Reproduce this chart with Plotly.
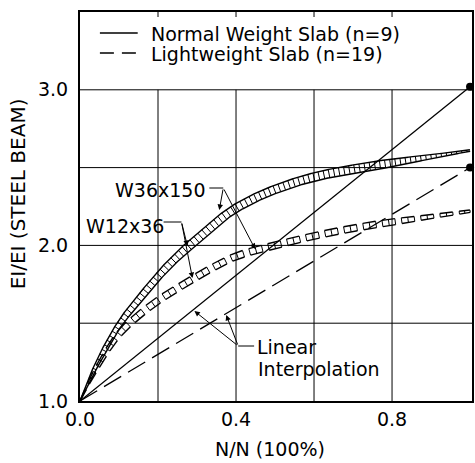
import numpy as np
import plotly.graph_objects as go

# ---------------- data ----------------
x_pts = [0.0, 0.05, 0.10, 0.15, 0.20, 0.25, 0.30, 0.35, 0.40, 0.50, 0.60, 0.70, 0.80, 0.90, 1.00]
# Normal weight slab (n=9): band between W36x150 (upper) and W12x36 (lower)
normal_w36x150 = [1.0, 1.299, 1.520, 1.683, 1.834, 1.964, 2.075, 2.183, 2.270, 2.388, 2.467, 2.517, 2.555, 2.583, 2.615]
normal_w12x36 = [1.0, 1.241, 1.460, 1.617, 1.766, 1.896, 2.005, 2.117, 2.210, 2.332, 2.413, 2.463, 2.505, 2.557, 2.605]
# Lightweight slab (n=19)
light_w36x150 = [1.0, 1.264, 1.459, 1.577, 1.671, 1.750, 1.825, 1.894, 1.953, 2.022, 2.081, 2.131, 2.170, 2.198, 2.228]
light_w12x36 = [1.0, 1.216, 1.401, 1.523, 1.619, 1.700, 1.775, 1.846, 1.907, 1.978, 2.039, 2.089, 2.130, 2.172, 2.212]
# Linear interpolation lines
lin_x = [0.0, 1.0]
lin_normal = [1.0, 3.02]
lin_light = [1.0, 2.50]

x_tick_vals = [0.0, 0.4, 0.8]
x_tick_text = ["0.0", "0.4", "0.8"]
y_tick_vals = [1.0, 2.0, 3.0]
y_tick_text = ["1.0", "2.0", "3.0"]
grid_x = [0.2, 0.4, 0.6, 0.8]
grid_y = [1.5, 2.0, 2.5, 3.0]

# ---------------- geometry ----------------
W, H = 475, 463
ML, MR, MT, MB = 80, 1, 12, 62
X0, X1 = 0.0, 1.005
Y0, Y1 = 1.0, 3.5
PW = W - ML - MR
PH = H - MT - MB
sx = PW / (X1 - X0)
sy = PH / (Y1 - Y0)
FONT = "DejaVu Sans"
FS = 19


def fx(px):  # figure pixel -> data x
    return X0 + (px - ML) / sx


def fy(py):  # figure pixel -> data y
    return Y0 + (H - MB - py) / sy


def px_paper(px):
    return (px - ML) / PW


def py_paper(py):
    return (H - MB - py) / PH


def pchip(xk, yk, xq):
    xk = np.asarray(xk, float)
    yk = np.asarray(yk, float)
    h = np.diff(xk)
    d = np.diff(yk) / h
    n = len(xk)
    m = np.zeros(n)
    for i in range(1, n - 1):
        if d[i - 1] * d[i] <= 0:
            m[i] = 0.0
        else:
            w1 = 2 * h[i] + h[i - 1]
            w2 = h[i] + 2 * h[i - 1]
            m[i] = (w1 + w2) / (w1 / d[i - 1] + w2 / d[i])
    m0 = ((2 * h[0] + h[1]) * d[0] - h[0] * d[1]) / (h[0] + h[1])
    m[0] = m0 if m0 * d[0] > 0 else 0.0
    mn = ((2 * h[-1] + h[-2]) * d[-1] - h[-1] * d[-2]) / (h[-1] + h[-2])
    m[-1] = mn if mn * d[-1] > 0 else 0.0
    idx = np.clip(np.searchsorted(xk, xq) - 1, 0, n - 2)
    t = (xq - xk[idx]) / h[idx]
    h00 = 2 * t**3 - 3 * t**2 + 1
    h10 = t**3 - 2 * t**2 + t
    h01 = -2 * t**3 + 3 * t**2
    h11 = t**3 - t**2
    return h00 * yk[idx] + h10 * h[idx] * m[idx] + h01 * yk[idx + 1] + h11 * h[idx] * m[idx + 1]


def band_traces(xs, up, lo, dashed):
    xq = np.linspace(0, 1, 1201)
    U = pchip(xs, up, xq)
    L = pchip(xs, lo, xq)
    C = (U + L) / 2
    cx = (xq - X0) * sx
    cy = (C - Y0) * sy
    g = (U - L) * sy
    dx = np.gradient(cx)
    dy = np.gradient(cy)
    nn = np.hypot(dx, dy)
    tx, ty = dx / nn, dy / nn
    nx, ny = -ty, tx
    hh = g * tx / 2
    ux, uy = cx + hh * nx, cy + hh * ny
    lx, ly = cx - hh * nx, cy - hh * ny
    s = np.concatenate([[0], np.cumsum(np.hypot(np.diff(cx), np.diff(cy)))])
    send = s[-1]

    def at(sv, arr):
        return np.interp(sv, s, arr)

    ex, ey, rx, ry = [], [], [], []
    if not dashed:
        for arrx, arry in ((ux, uy), (lx, ly)):
            ex += list(arrx / sx + X0) + [None]
            ey += list(arry / sy + Y0) + [None]
        rungs = np.arange(4.0, send, 5.2)
    else:
        P, D = 19.5, 13.0
        rungs = []
        k = 0
        while k * P < send:
            sa = k * P
            sb = min(sa + D, send)
            ss = np.linspace(sa, sb, 10)
            for arrx, arry in ((ux, uy), (lx, ly)):
                ex += list(at(ss, arrx) / sx + X0) + [None]
                ey += list(at(ss, arry) / sy + Y0) + [None]
            rungs += [sa, (sa + sb) / 2, sb]
            k += 1
        rungs = np.array(rungs)
    for sv in rungs:
        if at(sv, hh) < 0.6:
            continue
        rx += [at(sv, ux) / sx + X0, at(sv, lx) / sx + X0, None]
        ry += [at(sv, uy) / sy + Y0, at(sv, ly) / sy + Y0, None]
    return [
        go.Scatter(x=ex, y=ey, mode="lines", line=dict(color="black", width=1.4),
                   hoverinfo="skip", showlegend=False),
        go.Scatter(x=rx, y=ry, mode="lines", line=dict(color="black", width=1.0),
                   hoverinfo="skip", showlegend=False),
    ]


fig = go.Figure()

# linear interpolation lines
fig.add_trace(go.Scatter(x=lin_x, y=lin_normal, mode="lines",
                         line=dict(color="black", width=1.3), showlegend=False))
fig.add_trace(go.Scatter(x=lin_x, y=lin_light, mode="lines",
                         line=dict(color="black", width=1.3, dash="20px,8px"), showlegend=False))
# end dots
fig.add_trace(go.Scatter(x=[lin_x[-1], lin_x[-1]], y=[lin_normal[-1], lin_light[-1]], mode="markers",
                         marker=dict(color="black", size=8), cliponaxis=False, showlegend=False))

for tr in band_traces(x_pts, normal_w36x150, normal_w12x36, dashed=False):
    fig.add_trace(tr)
for tr in band_traces(x_pts, light_w36x150, light_w12x36, dashed=True):
    fig.add_trace(tr)

shapes = []
for gx in grid_x:
    shapes.append(dict(type="line", xref="x", yref="y", x0=gx, x1=gx, y0=Y0, y1=3.0,
                       line=dict(color="black", width=1), layer="below"))
    shapes.append(dict(type="line", xref="x", yref="paper", x0=gx, x1=gx, y0=1, y1=1 - 5 / PH,
                       line=dict(color="black", width=1)))
for gy in grid_y:
    shapes.append(dict(type="line", xref="paper", yref="y", x0=0, x1=1, y0=gy, y1=gy,
                       line=dict(color="black", width=1), layer="below"))

# legend samples
shapes.append(dict(type="line", xref="paper", yref="paper", x0=px_paper(100), x1=px_paper(138),
                   y0=py_paper(33), y1=py_paper(33), line=dict(color="black", width=1.4)))
shapes.append(dict(type="line", xref="paper", yref="paper", x0=px_paper(100), x1=px_paper(138),
                   y0=py_paper(53), y1=py_paper(53), line=dict(color="black", width=1.4, dash="14px,8px")))

# leader lines (horizontal stubs)
shapes.append(dict(type="line", xref="x", yref="y", x0=fx(210), x1=fx(224), y0=fy(188), y1=fy(188),
                   line=dict(color="black", width=1)))
shapes.append(dict(type="line", xref="x", yref="y", x0=fx(164), x1=fx(182), y0=fy(222), y1=fy(222),
                   line=dict(color="black", width=1)))
shapes.append(dict(type="line", xref="x", yref="y", x0=fx(239), x1=fx(255), y0=fy(346), y1=fy(346),
                   line=dict(color="black", width=1)))

annotations = []


def txt(px, py, text, xanchor="center", size=FS, angle=0, align="left"):
    annotations.append(dict(xref="paper", yref="paper", x=px_paper(px), y=py_paper(py), text=text,
                            showarrow=False, xanchor=xanchor, yanchor="middle", textangle=angle,
                            align=align, font=dict(family=FONT, size=size, color="black")))


def arrow(tail, head):
    annotations.append(dict(xref="x", yref="y", axref="x", ayref="y",
                            x=fx(head[0]), y=fy(head[1]), ax=fx(tail[0]), ay=fy(tail[1]),
                            text="", showarrow=True, arrowhead=2, arrowsize=1.1, arrowwidth=1,
                            arrowcolor="black", standoff=0, startstandoff=0))


txt(149, 34, "Normal Weight Slab (n=9)", xanchor="left")
txt(149, 54, "Lightweight Slab (n=19)", xanchor="left")
txt(160, 190, "W36x150")
txt(125, 226, "W12x36")
txt(256, 347, "Linear", xanchor="left")
txt(257, 369, "Interpolation", xanchor="left")
txt(271, 449, "N/N (100%)", size=19)
txt(18, 194, "EI/EI (STEEL BEAM)", size=20, angle=-90)

arrow((224, 188), (220, 210))
arrow((224, 188), (256, 249))
arrow((182, 222), (188, 246))
arrow((182, 222), (193, 278))
arrow((239, 346), (195, 311))
arrow((239, 346), (227, 315))

fig.update_layout(
    width=W, height=H,
    margin=dict(l=ML, r=MR, t=MT, b=MB, pad=0),
    paper_bgcolor="white", plot_bgcolor="white",
    shapes=shapes, annotations=annotations,
    font=dict(family=FONT, size=FS, color="black"),
    xaxis=dict(range=[X0, X1], tickvals=x_tick_vals, ticktext=x_tick_text, showgrid=False,
               zeroline=False, showline=True, mirror=True, linecolor="black", linewidth=2,
               ticks="", tickfont=dict(family=FONT, size=FS, color="black")),
    yaxis=dict(range=[Y0, Y1], tickvals=y_tick_vals, ticktext=y_tick_text, showgrid=False,
               zeroline=False, showline=True, mirror=True, linecolor="black", linewidth=2,
               ticks="", ticklabelstandoff=6, tickfont=dict(family=FONT, size=FS, color="black")),
    showlegend=False,
)

fig.write_html("out.html")
